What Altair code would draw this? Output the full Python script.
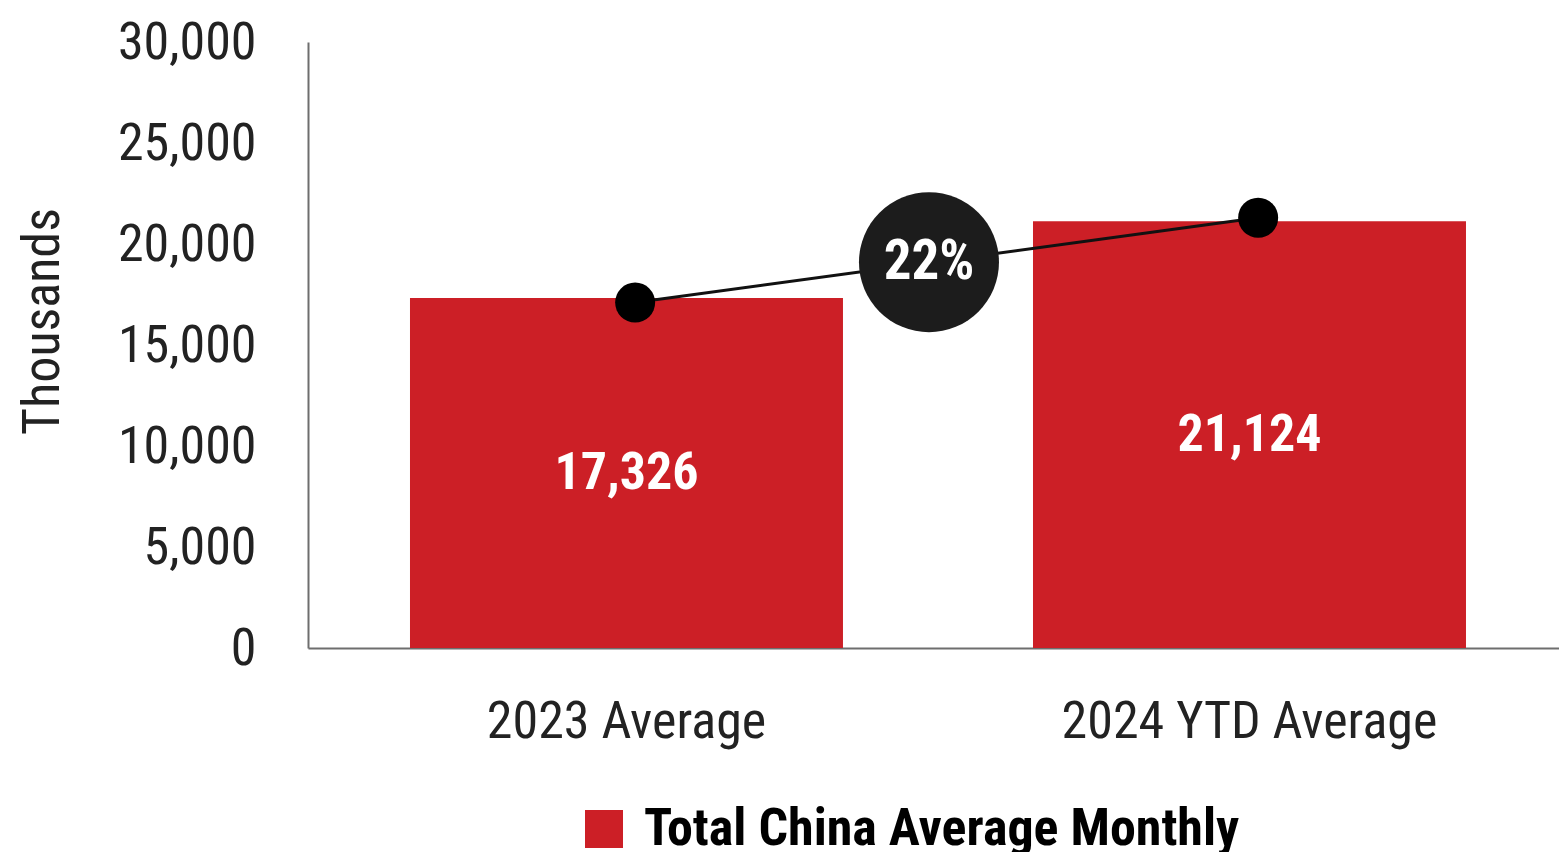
import altair as alt
import pandas as pd

# ---- data ----
categories = ["2023 Average", "2024 YTD Average"]
bar_values = [17326, 21124]
bar_labels = ["17,326", "21,124"]
series_name = "Total China Average Monthly"
line_values = [17100, 21300]
change_label = ["22%"]
change_value = [19100]
y_ticks = [0, 5000, 10000, 15000, 20000, 25000, 30000]

bars_df = pd.DataFrame({
    "category": categories,
    "value": bar_values,
    "label": bar_labels,
    "series": [series_name] * len(categories),
})
line_df = pd.DataFrame({"category": categories, "value": line_values})
bubble_df = pd.DataFrame({"category": [categories[0]], "value": change_value, "label": change_label})

FONT = "Liberation Sans Narrow, Roboto Condensed, DejaVu Sans Condensed, Roboto, sans-serif"
RED = "#CC1F26"
DARK = "#1C1C1C"

x_scale = alt.Scale(domain=categories, paddingInner=0.305, paddingOuter=0.1565, align=0.523)
y_scale = alt.Scale(domain=[0, 30000], nice=False, zero=True)

x_axis = alt.Axis(
    title=None, labelAngle=0, ticks=False, labelPadding=48, labelLimit=0,
    labelFontSize=52, labelFont=FONT, labelColor="#222222",
    domainColor="#6E6E6E", domainWidth=2,
)
y_axis = alt.Axis(
    values=y_ticks, format=",d", ticks=False, grid=False,
    labelPadding=52, labelFontSize=52, labelFont=FONT, labelColor="#222222",
    domainColor="#6E6E6E", domainWidth=2,
    title="Thousands", titleFont=FONT, titleFontSize=52, titleFontWeight="normal",
    titleColor="#222222", titleAngle=-90, titleX=-266, titleY=279,
    titleAlign="center", titleBaseline="middle",
)

bars = alt.Chart(bars_df).mark_bar(color=RED).encode(
    x=alt.X("category:N", scale=x_scale, sort=categories, axis=x_axis),
    y=alt.Y("value:Q", scale=y_scale, axis=y_axis),
    color=alt.Color(
        "series:N",
        scale=alt.Scale(domain=[series_name], range=[RED]),
        legend=alt.Legend(
            title=None, orient="none", legendX=270, legendY=761,
            symbolType="square", symbolSize=1444, symbolStrokeWidth=0,
            symbolOpacity=1, labelFontSize=52, labelFont=FONT,
            labelFontWeight="bold", labelColor="#000000", labelLimit=2000,
            labelOffset=14,
        ),
    ),
)

bar_text = alt.Chart(bars_df).transform_calculate(
    mid="datum.value / 2"
).mark_text(
    color="white", font=FONT, fontSize=52, fontWeight="bold", baseline="middle"
).encode(
    x=alt.X("category:N", scale=x_scale, sort=categories),
    y=alt.Y("mid:Q", scale=y_scale),
    text="label:N",
)

line = alt.Chart(line_df).mark_line(color="#111111", strokeWidth=3).encode(
    x=alt.X("category:N", scale=x_scale, sort=categories, bandPosition=0.52),
    y=alt.Y("value:Q", scale=y_scale),
)

points = alt.Chart(line_df).mark_circle(color="#000000", opacity=1, size=1600).encode(
    x=alt.X("category:N", scale=x_scale, sort=categories, bandPosition=0.52),
    y=alt.Y("value:Q", scale=y_scale),
)

bubble = alt.Chart(bubble_df).mark_circle(color=DARK, opacity=1, size=19600, xOffset=86).encode(
    x=alt.X("category:N", scale=x_scale, sort=categories, bandPosition=1),
    y=alt.Y("value:Q", scale=y_scale),
)

bubble_text = alt.Chart(bubble_df).mark_text(
    color="white", font=FONT, fontSize=55, fontWeight="bold", baseline="middle", xOffset=86
).encode(
    x=alt.X("category:N", scale=x_scale, sort=categories, bandPosition=1),
    y=alt.Y("value:Q", scale=y_scale),
    text="label:N",
)

chart = alt.layer(bars, bar_text, line, points, bubble, bubble_text).properties(
    width=1251,
    height=606,
    autosize=alt.AutoSizeParams(type="none"),
    padding={"left": 308, "top": 42, "right": 0, "bottom": 204},
    background="white",
).configure_view(stroke=None)

chart.save("out.html", embed_options={"renderer": "svg", "actions": False})
